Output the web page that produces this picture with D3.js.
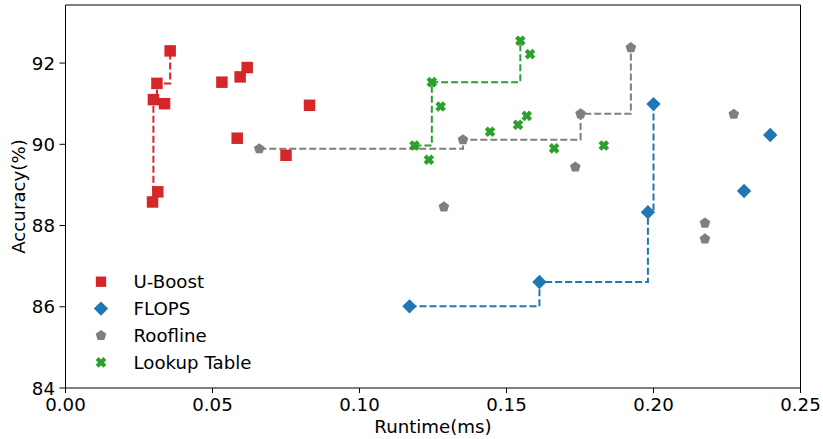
<!DOCTYPE html>
<html>
<head>
<meta charset="utf-8">
<script src="https://cdn.jsdelivr.net/npm/d3@7"></script>
<style>
  body { margin: 0; background: #fff; }
  svg { font-family: "DejaVu Sans", sans-serif; }
</style>
</head>
<body>
<div id="chart"></div>
<script>
// series: [runtime(ms), accuracy(%)]
var uboost = [[0.0296, 88.58], [0.0299, 91.10], [0.0311, 91.50], [0.0314, 88.83], [0.0337, 91.00],
  [0.0356, 92.30], [0.0532, 91.53], [0.0584, 90.15], [0.0594, 91.66], [0.0618, 91.89],
  [0.0750, 89.73], [0.0830, 90.96]];
var flops = [[0.1170, 86.01], [0.1612, 86.61], [0.1981, 88.33], [0.2000, 90.99], [0.2308, 88.85], [0.2397, 90.23]];
var roofline = [[0.0659, 89.89], [0.1287, 88.46], [0.1352, 90.11], [0.1734, 89.44], [0.1752, 90.75],
  [0.1923, 92.38], [0.2175, 88.06], [0.2175, 87.67], [0.2273, 90.74]];
var lookup = [[0.1187, 89.97], [0.1236, 89.62], [0.1246, 91.53], [0.1276, 90.93], [0.1444, 90.31],
  [0.1539, 90.48], [0.1547, 92.55], [0.1569, 90.70], [0.1580, 92.22], [0.1662, 89.90], [0.1831, 89.97]];
var xTicks = [0, 0.05, 0.10, 0.15, 0.20, 0.25];
var yTicks = [84, 86, 88, 90, 92];

var width = 823, height = 439;
var fs = "18.2px";
var svg = d3.select("#chart").append("svg")
  .attr("width", width).attr("height", height);

var x = d3.scaleLinear().domain([0, 0.25]).range([65.5, 800.5]);
var y = d3.scaleLinear().domain([84, 93.43]).range([388, 5]);

// marker shapes
function square(s) { var h = s / 2; return `M${-h},${-h}H${h}V${h}H${-h}Z`; }
function diamond(r) { return `M0,${-r}L${r},0L0,${r}L${-r},0Z`; }
function pentagon(r) {
  var p = d3.range(5).map(i => {
    var a = -Math.PI / 2 + i * 2 * Math.PI / 5;
    return [r * Math.cos(a), r * Math.sin(a)];
  });
  return "M" + p.map(d => d.join(",")).join("L") + "Z";
}
function xmark(h, w) {
  var a = w / 2;
  var pts = [[-a, -h], [a, -h], [a, -a], [h, -a], [h, a], [a, a], [a, h], [-a, h], [-a, a], [-h, a], [-h, -a], [-a, -a]];
  var c = Math.SQRT1_2;
  pts = pts.map(p => [(p[0] - p[1]) * c, (p[0] + p[1]) * c]);
  return "M" + pts.map(d => d.join(",")).join("L") + "Z";
}

var series = [
  { name: "U-Boost", data: uboost, color: "#d62728", shape: square(11.5) },
  { name: "FLOPS", data: flops, color: "#1f77b4", shape: diamond(7.2) },
  { name: "Roofline", data: roofline, color: "#7f7f7f", shape: pentagon(5.6) },
  { name: "Lookup Table", data: lookup, color: "#2ca02c", shape: xmark(5.4, 4.2) }
];

// pareto front: runtime ascending, keep only accuracy improvements
function front(data) {
  var best = -Infinity;
  return data.slice().sort((a, b) => a[0] - b[0]).filter(d => {
    if (d[1] > best) { best = d[1]; return true; }
    return false;
  });
}

var line = d3.line().x(d => x(d[0])).y(d => y(d[1])).curve(d3.curveStepAfter);

svg.selectAll(".front")
  .data(series).enter().append("path")
  .attr("class", "front")
  .attr("d", s => line(front(s.data)))
  .attr("fill", "none")
  .attr("stroke", s => s.color)
  .attr("stroke-width", 2)
  .attr("stroke-dasharray", "7,3");

series.forEach(s => {
  svg.append("g").selectAll("path")
    .data(s.data).enter().append("path")
    .attr("d", s.shape)
    .attr("transform", d => `translate(${x(d[0])},${y(d[1])})`)
    .attr("fill", s.color);
});

// frame
svg.append("line").attr("x1", 65.5).attr("x2", 65.5).attr("y1", 5).attr("y2", 388).attr("stroke", "#000");
svg.append("line").attr("x1", 800.5).attr("x2", 800.5).attr("y1", 5).attr("y2", 388).attr("stroke", "#000");
svg.append("line").attr("x1", 65.5).attr("x2", 800.5).attr("y1", 5).attr("y2", 5).attr("stroke", "#000");
svg.append("line").attr("x1", 65.5).attr("x2", 800.5).attr("y1", 388).attr("y2", 388).attr("stroke", "#000");

// ticks
var xt = svg.append("g").selectAll("g").data(xTicks).enter().append("g")
  .attr("transform", d => `translate(${x(d)},388)`);
xt.append("line").attr("y2", 5).attr("stroke", "#000");
xt.append("text").attr("y", 23).attr("text-anchor", "middle")
  .style("font-size", fs).text(d => d3.format(".2f")(d));

var yt = svg.append("g").selectAll("g").data(yTicks).enter().append("g")
  .attr("transform", d => `translate(65.5,${y(d)})`);
yt.append("line").attr("x2", -6).attr("stroke", "#000");
yt.append("text").attr("x", -10.5).attr("y", 6.5).attr("text-anchor", "end")
  .style("font-size", fs).text(d => d);

svg.append("text").attr("x", 433).attr("y", 433).attr("text-anchor", "middle")
  .style("font-size", fs).text("Runtime(ms)");
svg.append("text").attr("transform", "translate(25,196.5) rotate(-90)")
  .attr("text-anchor", "middle").style("font-size", fs).text("Accuracy(%)");

// legend
var lg = svg.append("g").selectAll("g").data(series).enter().append("g")
  .attr("transform", (d, i) => `translate(101,${281.7 + i * 26.9})`);
lg.append("path").attr("d", d => d.shape).attr("fill", d => d.color)
  .attr("transform", d => d.name === "U-Boost" ? "scale(0.9)" : null);
lg.append("text").attr("x", 32.5).attr("y", 6.4)
  .style("font-size", fs).text(d => d.name);
</script>
</body>
</html>
